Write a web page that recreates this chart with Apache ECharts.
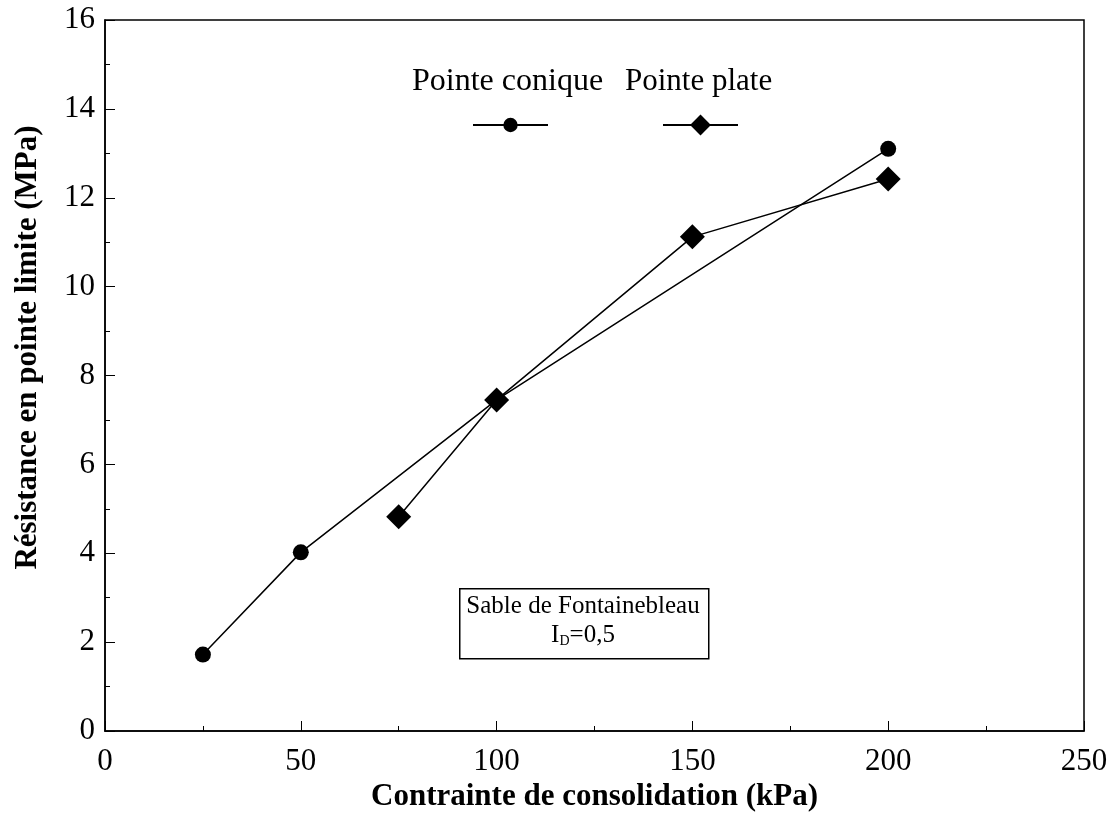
<!DOCTYPE html>
<html>
<head>
<meta charset="utf-8">
<script src="https://cdn.jsdelivr.net/npm/echarts@6/dist/echarts.min.js"></script>
<style>
  html, body { margin: 0; padding: 0; background: #fff; }
  #main { width: 1111px; height: 818px; }
</style>
</head>
<body>
<div id="main"></div>
<script>
// data
var coniqueX = [25, 50, 100, 200];
var coniqueY = [1.72, 4.02, 7.45, 13.1];
var plateX = [75, 100, 150, 200];
var plateY = [4.82, 7.45, 11.12, 12.42];
var seriesNames = ['Pointe conique', 'Pointe plate'];

var FONT = 'Liberation Serif';

function pairs(xs, ys) {
	return xs.map(function (x, i) { return [x, ys[i]]; });
}

var myChart = echarts.init(document.getElementById('main'));

var option = {
	backgroundColor: '#fff',
	animation: false,
	grid: {
		left: 105, right: 27, top: 20, bottom: 87,
		outerBoundsMode: 'none', containLabel: false,
		show: true, borderColor: '#000', borderWidth: 1.5, backgroundColor: 'transparent'
	},
	legend: [{
		data: [seriesNames[0]],
		left: 467, top: 111,
		itemWidth: 75, itemHeight: 18,
		formatter: function () { return ''; },
		selectedMode: false
	}, {
		data: [seriesNames[1]],
		left: 657, top: 107,
		itemWidth: 75, itemHeight: 26,
		formatter: function () { return ''; },
		selectedMode: false
	}],
	xAxis: {
		type: 'value', min: 0, max: 250, interval: 50,
		name: 'Contrainte de consolidation (kPa)',
		nameLocation: 'middle', nameGap: 50,
		nameTextStyle: { fontFamily: FONT, fontWeight: 'bold', fontSize: 31, color: '#000' },
		axisLine: { lineStyle: { color: '#000', width: 1.5 } },
		axisTick: { inside: true, length: 10, lineStyle: { color: '#000' } },
		minorTick: { show: true, splitNumber: 2, length: 5, lineStyle: { color: '#000' } },
		splitLine: { show: false },
		axisLabel: { fontFamily: FONT, fontSize: 31, color: '#000', margin: 15 }
	},
	yAxis: {
		type: 'value', min: 0, max: 16, interval: 2,
		name: 'Résistance en pointe limite (MPa)',
		nameLocation: 'middle', nameGap: 62,
		nameTextStyle: {
			fontFamily: FONT, fontWeight: 'bold', fontSize: 31, color: '#000',
			padding: [0, 0, 0, 56]
		},
		axisLine: { lineStyle: { color: '#000', width: 1.5 } },
		axisTick: { inside: true, length: 10, lineStyle: { color: '#000' } },
		minorTick: { show: true, splitNumber: 2, length: 5, lineStyle: { color: '#000' } },
		splitLine: { show: false },
		axisLabel: { fontFamily: FONT, fontSize: 31, color: '#000', margin: 10 }
	},
	series: [{
		name: seriesNames[0],
		type: 'line',
		data: pairs(coniqueX, coniqueY),
		symbol: 'circle', symbolSize: 16,
		itemStyle: { color: '#000' },
		lineStyle: { color: '#000', width: 1.5 }
	}, {
		name: seriesNames[1],
		type: 'line',
		data: pairs(plateX, plateY),
		symbol: 'diamond', symbolSize: 25,
		itemStyle: { color: '#000' },
		lineStyle: { color: '#000', width: 1.5 }
	}],
	graphic: [{
		type: 'text', left: 412, top: 66,
		style: { text: seriesNames[0], font: '32px "Liberation Serif"', fill: '#000' }
	}, {
		type: 'text', left: 625, top: 66,
		style: { text: seriesNames[1], font: '31px "Liberation Serif"', fill: '#000' }
	}, {
		type: 'rect', left: 459, top: 588,
		shape: { width: 249, height: 70 },
		style: { fill: '#fff', stroke: '#000', lineWidth: 1.5 }
	}, {
		type: 'text', x: 583, y: 594,
		style: {
			text: 'Sable de Fontainebleau', font: '25px "Liberation Serif"',
			fill: '#000', align: 'center'
		}
	}, {
		type: 'text', x: 583, y: 623,
		style: {
			text: '{a|I}{b|D}{a|=0,5}',
			align: 'center', fill: '#000',
			rich: {
				a: { fontFamily: FONT, fontSize: 25, color: '#000' },
				b: { fontFamily: FONT, fontSize: 14, color: '#000', verticalAlign: 'bottom', padding: [8, 0, 0, 0] }
			}
		}
	}]
};

myChart.setOption(option);
window.onresize = myChart.resize;
</script>
</body>
</html>
